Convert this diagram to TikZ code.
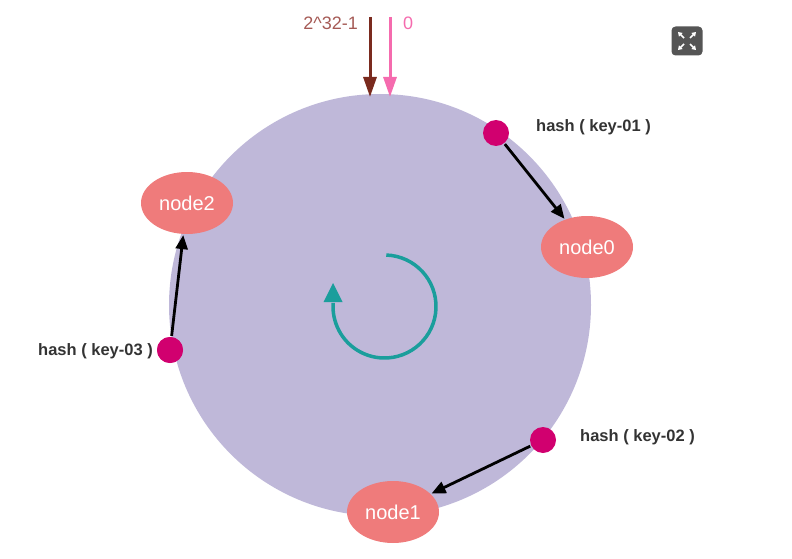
\documentclass[tikz,border=0pt]{standalone}
\usepackage{fontspec}
\setmainfont{Liberation Sans}
\usetikzlibrary{arrows.meta,shapes.geometric}
\definecolor{ringfill}{HTML}{BFB8D9}
\definecolor{dotcol}{HTML}{D1006F}
\definecolor{nodecol}{HTML}{EF7B7B}
\definecolor{maxcol}{HTML}{7A2A1E}
\definecolor{zerocol}{HTML}{F56BAE}
\definecolor{maxtext}{HTML}{A55A55}
\definecolor{tealcol}{HTML}{1A9E9C}
\definecolor{labcol}{HTML}{333333}
\definecolor{iconcol}{HTML}{555555}
\tikzset{
  ringnode/.style={ellipse, fill=nodecol, minimum width=92pt, minimum height=62pt, inner sep=0pt, text=white, font=\fontsize{20}{22}\selectfont},
  hashdot/.style={circle, fill=dotcol, minimum size=26pt, inner sep=0pt},
  hashlab/.style={text=labcol, font=\bfseries\fontsize{16.5}{18}\selectfont, inner sep=0pt},
  maparrow/.style={draw=black, line width=2.8pt, -{Triangle[length=14pt,width=12pt]}, shorten >=1pt, shorten <=1pt},
  toparrow/.style={line width=3pt, -{Triangle[length=20pt,width=13pt]}}
}
\begin{document}
\begin{tikzpicture}[x=1pt,y=-1pt]
\useasboundingbox (0,0) rectangle (792,559);
% ring
\fill[ringfill] (380,305) circle (211);
% top arrows
\coordinate (maxs) at (370,17);
\coordinate (maxe) at (370,97);
\coordinate (zeros) at (390,17);
\coordinate (zeroe) at (390,97);
\draw[toparrow, draw=maxcol, fill=maxcol] (maxs) -- (maxe);
\draw[toparrow, draw=zerocol, fill=zerocol] (zeros) -- (zeroe);
\node[anchor=east, text=maxtext, font=\fontsize{18}{20}\selectfont, inner sep=0pt] (maxlab) at (358,23) {2\^{}32-1};
\node[anchor=west, text=zerocol, font=\fontsize{18}{20}\selectfont, inner sep=0pt] (zerolab) at (403,23) {0};
% rotation arrow
\draw[tealcol, line width=3.5pt] (384.5,306.5) ++(-88:51.5) arc[start angle=-88, end angle=184, radius=51.5];
\fill[tealcol] (323.5,302) -- (342.5,302) -- (333,283) -- cycle;
% nodes
\node[ringnode] (n2) at (187,203) {node2};
\node[ringnode] (n0) at (587,247) {node0};
\node[ringnode] (n1) at (393,512) {node1};
% hash dots
\node[hashdot] (k1) at (496,133) {};
\node[hashdot] (k2) at (543,440) {};
\node[hashdot] (k3) at (170,350) {};
% labels
\node[hashlab, anchor=west] (l1) at (536,127) {hash ( key-01 )};
\node[hashlab, anchor=west] (l2) at (580,437) {hash ( key-02 )};
\node[hashlab, anchor=west] (l3) at (38,351) {hash ( key-03 )};
\node[hashdot] at (k3) {};
% connectors
\draw[maparrow] (k1) -- (n0);
\draw[maparrow] (k2) -- (n1);
\draw[maparrow] (k3) -- (n2);
% expand icon
\node[fill=iconcol, rounded corners=4pt, minimum width=31pt, minimum height=29pt, inner sep=0pt] (icon) at (687,41) {};
\begin{scope}[white, line width=1.6pt, -{Triangle[length=4pt,width=5pt]}]
\draw (icon.center) ++(-3,-3) -- ++(-6,-6);
\draw (icon.center) ++(3,-3) -- ++(6,-6);
\draw (icon.center) ++(-3,3) -- ++(-6,6);
\draw (icon.center) ++(3,3) -- ++(6,6);
\end{scope}
\end{tikzpicture}
\end{document}
